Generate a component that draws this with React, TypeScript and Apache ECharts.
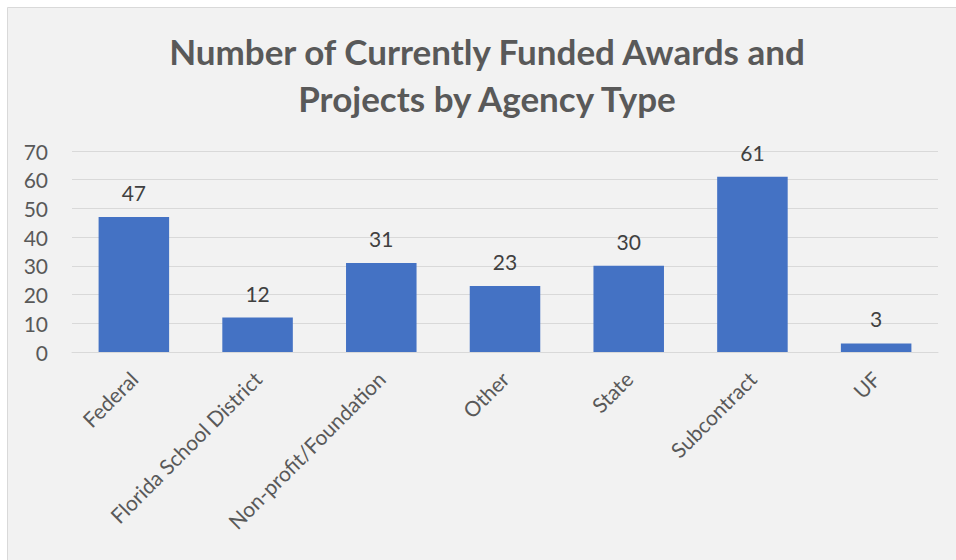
import React, { useEffect, useRef } from "react";
import * as echarts from "echarts";

const categories = [
  "Federal",
  "Florida School District",
  "Non-profit/Foundation",
  "Other",
  "State",
  "Subcontract",
  "UF",
];
const awardCounts = [47, 12, 31, 23, 30, 61, 3];
const titleLines = ["Number of Currently Funded Awards and", "Projects by Agency Type"];

export default function App() {
  const ref = useRef<HTMLDivElement>(null);
  useEffect(() => {
    if (!ref.current) return;
    const chart = echarts.init(ref.current, null, { renderer: "svg" });
    chart.setOption({
      animation: false,
      backgroundColor: "#ffffff",
      graphic: [
        {
          type: "rect",
          z: -10,
          shape: { x: 7.5, y: 7.5, width: 960, height: 560 },
          style: { fill: "#F2F2F2", stroke: "#D9D9D9", lineWidth: 1 },
          silent: true,
        },
        ...titleLines.map((line, i) => ({
          type: "text",
          x: 487,
          y: 51 + i * 47,
          silent: true,
          style: {
            text: line,
            textAlign: "center",
            textVerticalAlign: "middle",
            fontFamily: "Lato",
            fontSize: 35,
            fontWeight: "bold",
            fill: "#595959",
          },
        })),
      ],
      grid: { left: 72, right: 18, top: 151, bottom: 208, containLabel: false },
      xAxis: {
        type: "category",
        data: categories,
        axisLine: { lineStyle: { color: "#D9D9D9", width: 1 } },
        axisTick: { show: false },
        axisLabel: {
          rotate: 45,
          interval: 0,
          margin: 23,
          fontFamily: "Lato",
          fontSize: 21,
          color: "#595959",
        },
      },
      yAxis: {
        type: "value",
        min: 0,
        max: 70,
        interval: 10,
        axisLine: { show: false },
        axisTick: { show: false },
        axisLabel: {
          margin: 24,
          fontFamily: "Lato",
          fontSize: 21,
          color: "#595959",
        },
        splitLine: { lineStyle: { color: "#D9D9D9", width: 1 } },
      },
      series: [
        {
          type: "bar",
          data: awardCounts,
          barWidth: "57%",
          itemStyle: { color: "#4472C4" },
          label: {
            show: true,
            position: "top",
            distance: 14,
            fontFamily: "Lato",
            fontSize: 21,
            color: "#404040",
          },
        },
      ],
    });
    return () => chart.dispose();
  }, []);
  return (
    <div
      ref={ref}
      style={{ position: "absolute", left: 0, top: 0, width: 956, height: 560 }}
    />
  );
}
